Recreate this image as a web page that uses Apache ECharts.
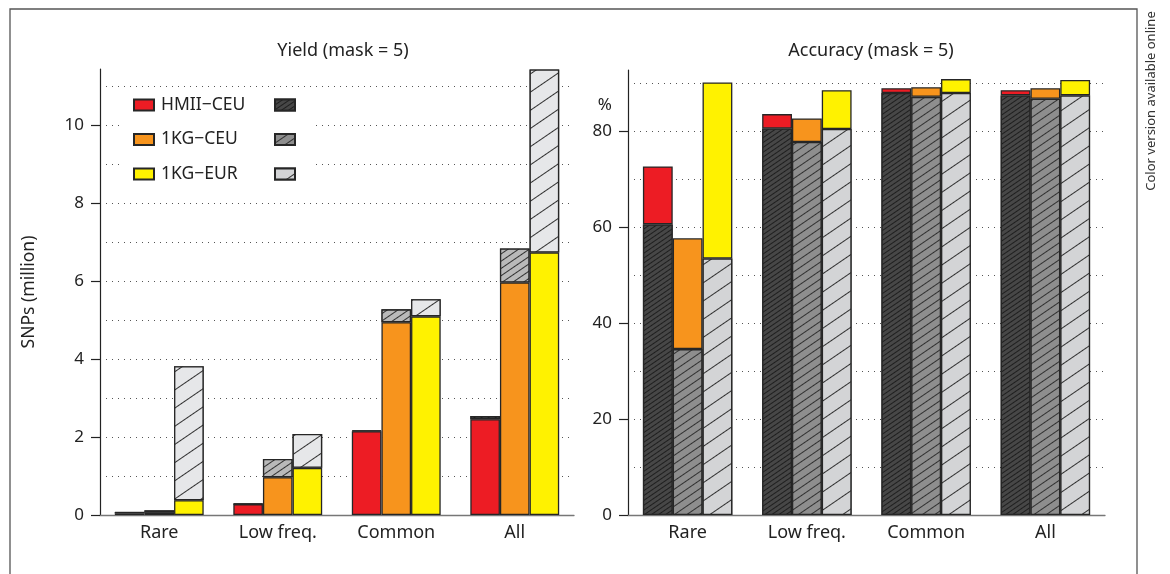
<!DOCTYPE html>
<html><head><meta charset="utf-8">
<script src="https://cdn.jsdelivr.net/npm/echarts@6/dist/echarts.min.js"></script>
<style>html,body{margin:0;padding:0;background:#fff}#c{width:1170px;height:574px}</style>
</head><body><div id="c"></div>
<script>
const categories = ['Rare', 'Low freq.', 'Common', 'All'];
const seriesNames = ['HMII−CEU', '1KG−CEU', '1KG−EUR'];
const hatchedNames = ['HMII−CEU hatched', '1KG−CEU hatched', '1KG−EUR hatched'];
// Yield (million SNPs): coloured part (bottom) and total bar height
const yieldHMIIColored = [0.04, 0.28, 2.15, 2.46];
const yieldHMIITotal   = [0.08, 0.29, 2.17, 2.54];
const yieldCEUColored  = [0.06, 0.97, 4.95, 5.97];
const yieldCEUTotal    = [0.12, 1.44, 5.28, 6.84];
const yieldEURColored  = [0.38, 1.21, 5.10, 6.74];
const yieldEURTotal    = [3.82, 2.08, 5.54, 11.44];
// Accuracy (%): hatched part (bottom) and total bar height
const accHMIIHatched = [60.6, 80.6, 88.0, 87.5];
const accHMIITotal   = [72.7, 83.6, 89.0, 88.6];
const accCEUHatched  = [34.6, 77.8, 87.2, 86.8];
const accCEUTotal    = [57.7, 82.7, 89.2, 89.0];
const accEURHatched  = [53.5, 80.5, 88.0, 87.5];
const accEURTotal    = [90.2, 88.6, 90.9, 90.7];
const yieldTicks = [0, 2, 4, 6, 8, 10];
const yieldGrid = [1, 2, 3, 4, 5, 6, 7, 8, 9, 10, 11];
const accTicks = [0, 20, 40, 60, 80];
const accGrid = [10, 20, 30, 40, 50, 60, 70, 80, 90];

const FONT = 'Noto Sans';
const colors = ['#ed1c24', '#f7941d', '#fff200'];
const BORDER = '#262626';

function hatch(bg, line, gap) {
  return { symbol: 'rect', symbolSize: 1, color: line, backgroundColor: bg,
           dashArrayX: [1, 0], dashArrayY: [1, gap], rotation: -0.6 };
}
const accHatch = [hatch('#474747', '#1e1e1e', 3), hatch('#8e8e8e', '#303030', 6), hatch('#d3d4d6', '#303030', 14)];
const yieldHatch = [hatch('#3a3a3a', '#1e1e1e', 3), hatch('#b9b9b9', '#303030', 5), hatch('#e6e7e9', '#303030', 14)];

function diff(a, b) { return a.map((v, i) => +(v - b[i]).toFixed(3)); }

const accLower = [accHMIIHatched, accCEUHatched, accEURHatched];
const accTop = [accHMIITotal, accCEUTotal, accEURTotal];
const yLower = [yieldHMIIColored, yieldCEUColored, yieldEURColored];
const yTop = [yieldHMIITotal, yieldCEUTotal, yieldEURTotal];

const series = [];
const barCommon = { type: 'bar', barGap: '0%', barCategoryGap: '25%', emphasis: { disabled: true } };
for (let i = 0; i < 3; i++) {
  series.push(Object.assign({}, barCommon, {
    name: hatchedNames[i], stack: 'a' + i, xAxisIndex: 1, yAxisIndex: 1,
    data: accLower[i],
    itemStyle: { color: accHatch[i].backgroundColor, decal: accHatch[i], borderColor: BORDER, borderWidth: 1.3 }
  }));
  series.push(Object.assign({}, barCommon, {
    name: seriesNames[i], stack: 'a' + i, xAxisIndex: 1, yAxisIndex: 1,
    data: diff(accTop[i], accLower[i]),
    itemStyle: { color: colors[i], borderColor: BORDER, borderWidth: 1.3 }
  }));
}
for (let i = 0; i < 3; i++) {
  series.push(Object.assign({}, barCommon, {
    name: seriesNames[i], stack: 'y' + i, xAxisIndex: 0, yAxisIndex: 0,
    data: yLower[i],
    itemStyle: { color: colors[i], borderColor: BORDER, borderWidth: 1.3 }
  }));
  series.push(Object.assign({}, barCommon, {
    name: hatchedNames[i], stack: 'y' + i, xAxisIndex: 0, yAxisIndex: 0,
    data: diff(yTop[i], yLower[i]),
    itemStyle: { color: yieldHatch[i].backgroundColor, decal: yieldHatch[i], borderColor: BORDER, borderWidth: 1.3 }
  }));
}

function gridAxis(gi, max, values) {
  return { type: 'value', gridIndex: gi, min: 0, max: max, position: 'right',
    axisLine: { show: false }, axisLabel: { show: false },
    axisTick: { show: false, customValues: values },
    splitLine: { show: true, showMinLine: true, showMaxLine: true,
      lineStyle: { type: [1, 5], color: '#555', width: 1 } } };
}

function xAx(gi) {
  return { type: 'category', gridIndex: gi, data: categories,
    axisLine: { show: true, lineStyle: { color: '#777', width: 1.3 } },
    axisTick: { show: false },
    axisLabel: { fontFamily: FONT, fontSize: 18, color: '#222', margin: 9 },
    splitLine: { show: false } };
}

const option = {
  animation: false,
  backgroundColor: '#fff',
  textStyle: { fontFamily: FONT },
  title: [
    { text: 'Yield (mask = 5)', left: 338, top: 37, textAlign: 'center',
      textStyle: { fontFamily: FONT, fontSize: 18, fontWeight: 'normal', color: '#222' } },
    { text: 'Accuracy (mask = 5)', left: 866, top: 37, textAlign: 'center',
      textStyle: { fontFamily: FONT, fontSize: 18, fontWeight: 'normal', color: '#222' } }
  ],
  grid: [
    { left: 100, right: 596, top: 69, bottom: 59 },
    { left: 628, right: 65, top: 70, bottom: 59 }
  ],
  xAxis: [xAx(0), xAx(1)],
  yAxis: [
    { type: 'value', gridIndex: 0, min: 0, max: 11.45, interval: 1,
      axisLine: { show: true, lineStyle: { color: '#222', width: 1.2 } },
      axisTick: { show: true, customValues: yieldTicks, length: 9, lineStyle: { color: '#222', width: 1.2 } },
      axisLabel: { customValues: yieldTicks, margin: 16, fontFamily: FONT, fontSize: 17, color: '#222' },
      splitLine: { show: false },
      name: 'SNPs (million)', nameLocation: 'middle', nameGap: 62,
      nameTextStyle: { fontFamily: FONT, fontSize: 17.5, color: '#222' } },
    { type: 'value', gridIndex: 1, min: 0, max: 92.8, interval: 10,
      axisLine: { show: true, lineStyle: { color: '#222', width: 1.2 } },
      axisTick: { show: true, customValues: accTicks, length: 9, lineStyle: { color: '#222', width: 1.2 } },
      axisLabel: { customValues: accTicks.concat([85.4]), margin: 16, fontFamily: FONT, fontSize: 17, color: '#222',
        formatter: v => (v > 81 ? '%' : String(v)) },
      splitLine: { show: false } },
    gridAxis(0, 11.45, yieldGrid),
    gridAxis(1, 92.8, accGrid)
  ],
  legend: [
    { data: seriesNames, orient: 'vertical', left: 133, top: 95, padding: 0, itemWidth: 20, itemHeight: 11,
      itemGap: 14.5, icon: 'rect', selectedMode: false,
      textStyle: { fontFamily: FONT, fontSize: 17.5, color: '#222', lineHeight: 20, padding: [0, 0, 0, 2] } },
    { data: hatchedNames, orient: 'vertical', left: 274, top: 95, padding: 0, itemWidth: 20, itemHeight: 11,
      itemGap: 14.5, icon: 'rect', selectedMode: false, formatter: () => ' ',
      textStyle: { fontFamily: FONT, fontSize: 17.5, color: '#222', lineHeight: 20 } }
  ],
  graphic: [
    { type: 'rect', z: 1, shape: { x: 123, y: 91, width: 190, height: 98 }, style: { fill: '#fff' } },
    { type: 'polyline', z: 10, shape: { points: [[10, 580], [10, 9], [1137, 9], [1137, 580]] },
      style: { stroke: '#555', lineWidth: 1.3, fill: null } },
    { type: 'text', z: 10, x: 1151, y: 101, rotation: Math.PI / 2,
      style: { text: 'Color version available online', fontFamily: FONT, fontSize: 13, fill: '#333',
        align: 'center', verticalAlign: 'middle' } }
  ],
  series: series
};
const chart = echarts.init(document.getElementById('c'), null, { renderer: 'canvas' });
chart.setOption(option);
</script>
</body></html>
